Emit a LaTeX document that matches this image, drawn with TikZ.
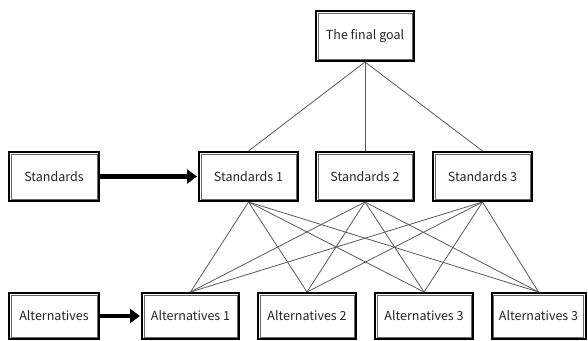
\documentclass[tikz,border=0pt]{standalone}
\usepackage{fontspec}
\setmainfont{Noto Sans CJK KR}
\usetikzlibrary{arrows.meta}
\tikzset{
  box/.style={draw=black, line width=2pt, fill=white, inner sep=0pt, minimum height=48pt, text=black!85, font=\fontsize{12.5}{14}\selectfont},
  innerbox/.style={draw=black!60, line width=0.7pt},
  link/.style={draw=black!65, line width=0.8pt},
  bigarrow/.style={draw=black, line width=4.5pt, -{Triangle[length=10pt,width=14pt]}, shorten >=1pt}
}
\begin{document}
\begin{tikzpicture}[x=1pt,y=-1pt]
\useasboundingbox (0,0) rectangle (588,340);
\node[box, minimum width=98pt, minimum height=50pt] (goal) at (365,36) {The final goal};
\node[box, minimum width=90pt, minimum height=49pt] (std) at (54,176.5) {Standards};
\node[box, minimum width=99pt, minimum height=49pt] (s1) at (248.5,176.5) {Standards 1};
\node[box, minimum width=98pt, minimum height=49pt] (s2) at (365,176.5) {Standards 2};
\node[box, minimum width=99pt, minimum height=49pt] (s3) at (482.5,176.5) {Standards 3};
\node[box, minimum width=90pt, minimum height=46pt] (alt) at (54,316) {Alternatives};
\node[box, minimum width=97pt, minimum height=46pt] (a1) at (190.5,316) {Alternatives 1};
\node[box, minimum width=98pt, minimum height=46pt] (a2) at (307,316) {Alternatives 2};
\node[box, minimum width=98pt, minimum height=46pt] (a3) at (424,316) {Alternatives 3};
\node[box, minimum width=94pt, minimum height=46pt] (a4) at (538.5,316) {Alternatives 3};
\foreach \n in {goal,std,s1,s2,s3,alt,a1,a2,a3,a4}
  \draw[innerbox] ([shift={(3,3)}]\n.north west) rectangle ([shift={(-3,-3)}]\n.south east);
\foreach \s in {s1,s2,s3}
  \draw[link] (goal.south) -- (\s.north);
\foreach \s in {s1,s2,s3}
  \foreach \a in {a1,a2,a3,a4}
    \draw[link] (\s.south) -- (\a.north);
\draw[bigarrow] (std.east) -- (s1.west);
\draw[bigarrow] (alt.east) -- (a1.west);
\end{tikzpicture}
\end{document}
